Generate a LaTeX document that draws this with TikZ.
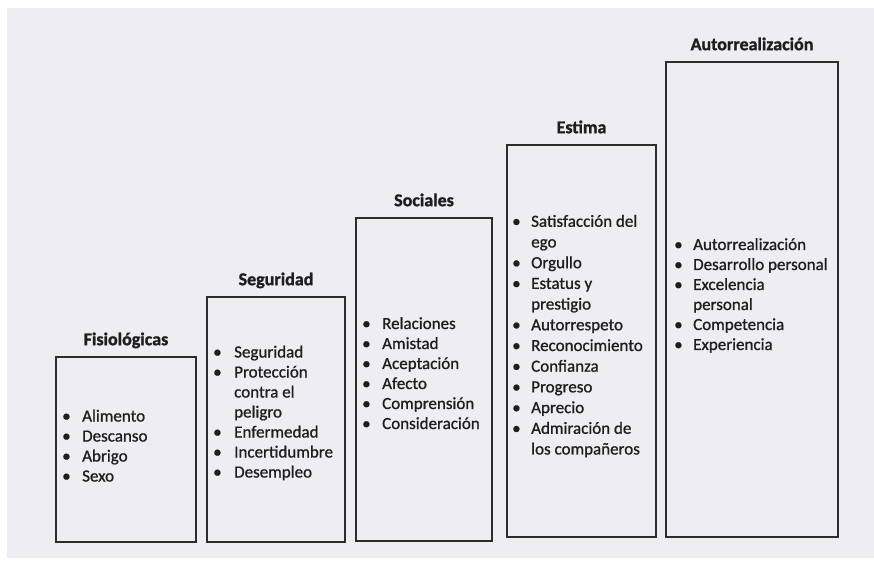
\documentclass[tikz,border=0pt]{standalone}
\usepackage{fontspec}
\setmainfont{Carlito}
\newfontfamily\itemfont{Carlito}[FakeBold=0.9]
\newfontfamily\titlefont{Carlito}[BoldFeatures={FakeBold=1.2}]
\usepackage{array}
\definecolor{paper}{RGB}{237,237,242}
\definecolor{ink}{RGB}{30,30,32}
\definecolor{frame}{RGB}{45,45,48}
\begin{document}
\begin{tikzpicture}[x=1pt,y=1pt,
  box/.style={draw=frame, line width=1.6pt, inner sep=0pt},
  ttl/.style={font=\titlefont\fontsize{18}{20}\selectfont\bfseries, text=ink, anchor=base, inner sep=0pt},
  items/.style={font=\itemfont\fontsize{17}{20}\selectfont, text=ink, anchor=west, inner sep=0pt},
  itemsb/.style={font=\itemfont\fontsize{17}{20.7}\selectfont, text=ink, anchor=west, inner sep=0pt}]
\useasboundingbox (0,0) rectangle (874,562);
\fill[white] (0,0) rectangle (874,562);
\fill[paper] (7,4) rectangle (874,554);

% boxes
\node[box, minimum width=140pt, minimum height=185pt] (fis) at (126,112.5) {};
\node[box, minimum width=138pt, minimum height=245pt] (seg) at (276,142.5) {};
\node[box, minimum width=136pt, minimum height=323pt] (soc) at (424,182.5) {};
\node[box, minimum width=149pt, minimum height=392pt] (est) at (581.5,221) {};
\node[box, minimum width=172pt, minimum height=475pt] (aut) at (752,262.5) {};

% titles
\node[ttl] (tfis) at ([yshift=11pt]fis.north) {Fisiológicas};
\node[ttl] (tseg) at ([yshift=11pt]seg.north) {Seguridad};
\node[ttl] (tsoc) at ([yshift=11pt]soc.north) {Sociales};
\node[ttl] (test) at ([yshift=11pt]est.north) {Estima};
\node[ttl] (taut) at ([yshift=11pt]aut.north) {Autorrealización};

% item lists
\node[items] (lfis) at (62,114.5) {\begin{tabular}{@{}p{20pt}@{}l@{}}
\textbullet & Alimento\\
\textbullet & Descanso\\
\textbullet & Abrigo\\
\textbullet & Sexo
\end{tabular}};

\node[items] (lseg) at (213,148.5) {\begin{tabular}{@{}p{21pt}@{}l@{}}
\textbullet & Seguridad\\
\textbullet & Protección\\
 & contra el\\
 & peligro\\
\textbullet & Enfermedad\\
\textbullet & Incertidumbre\\
\textbullet & Desempleo
\end{tabular}};

\node[items] (lsoc) at (362,187) {\begin{tabular}{@{}p{20pt}@{}l@{}}
\textbullet & Relaciones\\
\textbullet & Amistad\\
\textbullet & Aceptación\\
\textbullet & Afecto\\
\textbullet & Comprensión\\
\textbullet & Consideración
\end{tabular}};

\node[itemsb] (lest) at (512,225.5) {\begin{tabular}{@{}p{19pt}@{}l@{}}
\textbullet & Satisfacción del\\
 & ego\\
\textbullet & Orgullo\\
\textbullet & Estatus y\\
 & prestigio\\
\textbullet & Autorrespeto\\
\textbullet & Reconocimiento\\
\textbullet & Confianza\\
\textbullet & Progreso\\
\textbullet & Aprecio\\
\textbullet & Admiración de\\
 & los compañeros
\end{tabular}};

\node[items] (laut) at (674,266) {\begin{tabular}{@{}p{19pt}@{}l@{}}
\textbullet & Autorrealización\\
\textbullet & Desarrollo personal\\
\textbullet & Excelencia\\
 & personal\\
\textbullet & Competencia\\
\textbullet & Experiencia
\end{tabular}};
\end{tikzpicture}
\end{document}
